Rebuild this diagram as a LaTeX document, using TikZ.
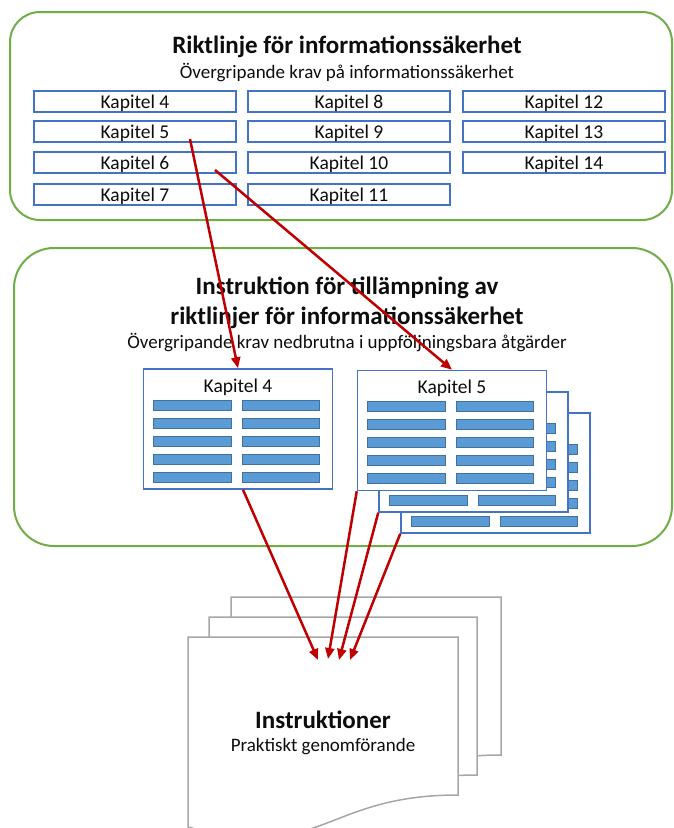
\documentclass[tikz,border=0pt]{standalone}
\usepackage{fontspec}
\setmainfont{Carlito}
\usetikzlibrary{arrows.meta,calc}
\definecolor{grn}{HTML}{70AD47}
\definecolor{blu}{HTML}{4472C4}
\definecolor{barfill}{HTML}{5B9BD5}
\definecolor{barline}{HTML}{41719C}
\definecolor{docgray}{HTML}{A6A6A6}
\definecolor{arr}{HTML}{C00000}
\definecolor{txt}{HTML}{0D0D0D}
\newcommand\cardbars[1]{%
  \foreach \r in {32,50,68,86,104}{%
    \draw[bar] ($(#1.north west)+(11,\r)$) rectangle ++(78,10);
    \draw[bar] ($(#1.north west)+(100,\r)$) rectangle ++(77,10);
  }}
\newcommand\docpath[3]{% x y w
  \draw[docshape] (#1,#2) -- ++(#3,0) -- ++(0,158)
    .. controls ($(#1,#2)+(0.5*#3,158)$) and ($(#1,#2)+(0.5*#3,226)$) .. ($(#1,#2)+(0,190)$) -- cycle;}
\begin{document}
\begin{tikzpicture}[x=1pt,y=-1pt,
  frame/.style={draw=grn, line width=2pt, fill=white},
  kap/.style={draw=blu, line width=1.5pt, minimum width=202pt, minimum height=21pt, inner sep=0pt, text depth=0pt, text=txt, font=\fontsize{19.5}{22}\selectfont},
  card/.style={draw=blu, line width=1.5pt, fill=white, minimum width=189pt, minimum height=120pt, inner sep=0pt},
  cardtext/.style={inner sep=0pt, text=txt, font=\fontsize{19.5}{22}\selectfont},
  bar/.style={draw=barline, fill=barfill, line width=1pt},
  docshape/.style={draw=docgray, line width=1.5pt, fill=white},
  arrowline/.style={draw=arr, line width=2.5pt, -{Triangle[length=11pt,width=9pt]}},
  title/.style={inner sep=0pt, text=txt, font=\bfseries\fontsize{25}{28}\selectfont, align=center},
  sub/.style={inner sep=0pt, text=txt, font=\fontsize{19}{22}\selectfont, align=center}]
\useasboundingbox (0,0) rectangle (674,828);

% top frame
\draw[frame, rounded corners=30pt] (10,12) rectangle (672,220);
\node[title] (t1) at (347,47) {Riktlinje för informationssäkerhet};
\node[sub] (s1) at (347,73) {Övergripande krav på informationssäkerhet};
\node[kap] (k4) at (135,101.5) {Kapitel 4};
\node[kap] (k5) at (135,131.5) {Kapitel 5};
\node[kap] (k6) at (135,162.5) {Kapitel 6};
\node[kap] (k7) at (135,194.5) {Kapitel 7};
\node[kap] (k8) at (349,101.5) {Kapitel 8};
\node[kap] (k9) at (349,131.5) {Kapitel 9};
\node[kap] (k10) at (349,162.5) {Kapitel 10};
\node[kap] (k11) at (349,194.5) {Kapitel 11};
\node[kap] (k12) at (564,101.5) {Kapitel 12};
\node[kap] (k13) at (564,131.5) {Kapitel 13};
\node[kap] (k14) at (564,162.5) {Kapitel 14};

% middle frame
\draw[frame, rounded corners=40pt] (14,248) rectangle (672,546);
\node[title] (t2) at (347,303) {Instruktion för tillämpning av\\[2pt]riktlinjer för informationssäkerhet};
\node[sub] (s2) at (347,343) {Övergripande krav nedbrutna i uppföljningsbara åtgärder};

\node[card] (c4) at (238,429) {};
\node[cardtext] (c4t) at ($(c4.north)+(0,19)$) {Kapitel 4};
\cardbars{c4}

\node[card] (c5c) at (495.5,473) {};
\cardbars{c5c}
\node[card] (c5b) at (473.5,452) {};
\cardbars{c5b}
\node[card] (c5) at (452,430.5) {};
\node[cardtext] (c5t) at ($(c5.north)+(0,19)$) {Kapitel 5};
\cardbars{c5}

% documents
\docpath{231}{597}{270}
\docpath{209}{617}{268}
\docpath{188}{637}{270}
\node[title] (it) at (323,720) {Instruktioner};
\node[sub] (is) at (323,747) {Praktiskt genomförande};

% arrows
\coordinate (s1a) at (190,139);
\coordinate (s2a) at (215,170);
\coordinate (e3) at (318,660);
\coordinate (e4) at (328,659);
\coordinate (e5) at (339,660);
\coordinate (e6) at (350,660);
\draw[arrowline] (s1a) -- (c4.north);
\draw[arrowline] (s2a) -- (c5.north);
\draw[arrowline] ($(c4.south)+(5,0)$) -- (e3);
\draw[arrowline] (c5.south west) -- (e4);
\draw[arrowline] (c5b.south west) -- (e5);
\draw[arrowline] (c5c.south west) -- (e6);
\end{tikzpicture}
\end{document}
